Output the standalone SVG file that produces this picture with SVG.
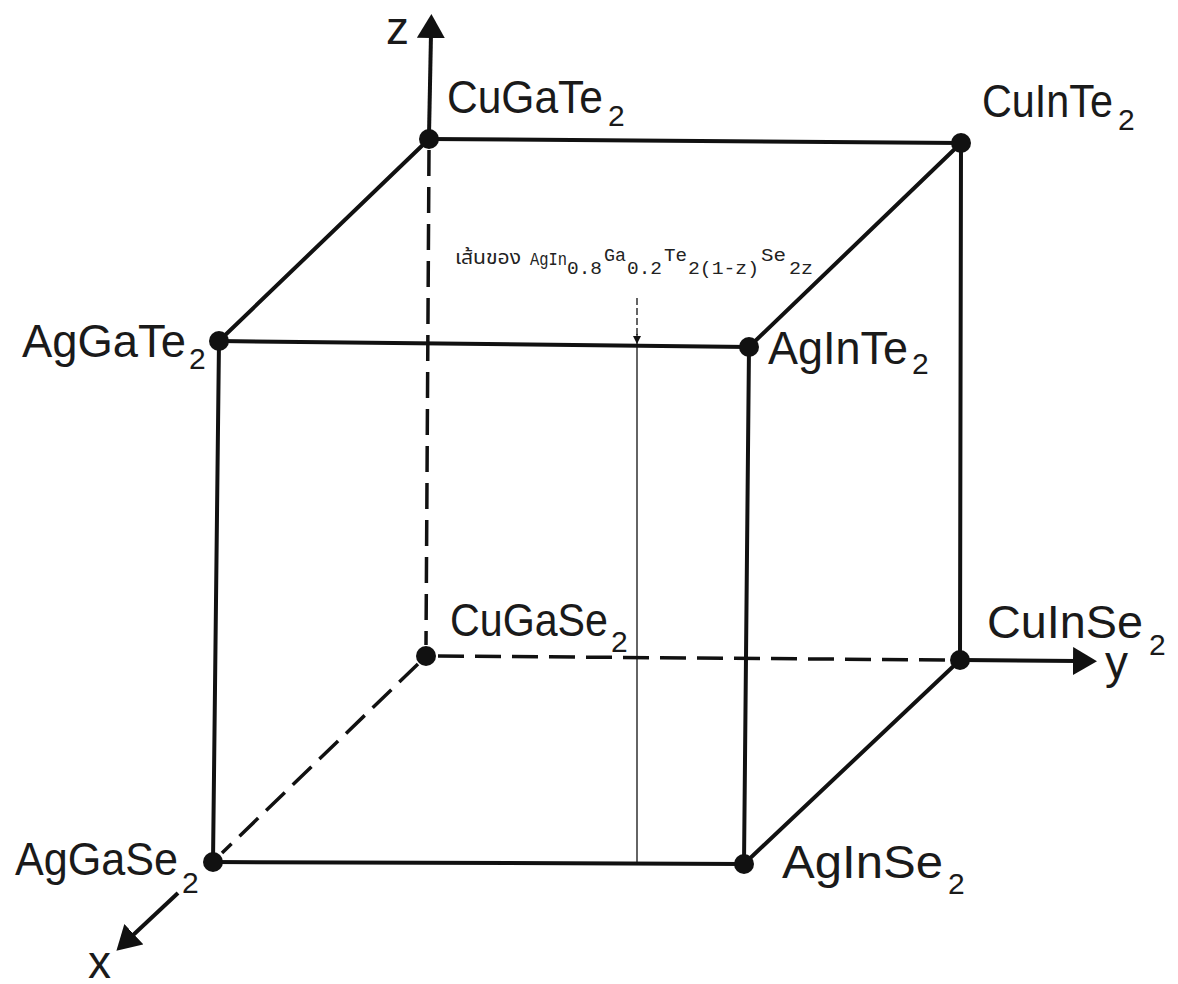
<svg xmlns="http://www.w3.org/2000/svg" width="1178" height="984" viewBox="0 0 1178 984">
<style>
.edge{stroke:#111;stroke-width:4;fill:none;stroke-linecap:round}
.dash{stroke:#111;stroke-width:3.5;fill:none;stroke-dasharray:26 11}
.axis{stroke:#111;stroke-width:4;fill:none}
.thin{stroke:#111;stroke-width:1.3;fill:none}
.dot{fill:#111}
.lbl{font-family:"Liberation Sans",Arial,sans-serif;font-size:46px;fill:#1a1a1a}
.sub{font-family:"Liberation Sans",Arial,sans-serif;font-size:30px;fill:#1a1a1a}
.mono{font-family:"Liberation Mono","Courier New",monospace;font-size:18px;fill:#222}
.thai{font-family:"Noto Sans Thai","Noto Serif Thai","Loma","Garuda","Noto Sans",sans-serif;font-size:19px;fill:#222}
</style>
<defs>
<marker id="ah" markerUnits="userSpaceOnUse" viewBox="0 0 24 28" refX="4" refY="14" markerWidth="24" markerHeight="28" orient="auto">
<path d="M0,0 L24,14 L0,28 z" fill="#111"/>
</marker>
<marker id="sah" markerUnits="userSpaceOnUse" viewBox="0 0 8 10" refX="8" refY="5" markerWidth="8" markerHeight="10" orient="auto">
<path d="M0,1 L8,5 L0,9 z" fill="#111"/>
</marker>
</defs>
<rect width="1178" height="984" fill="#fff"/>
<g id="connectors">
<line class="edge" x1="429" y1="139" x2="961" y2="143"/>
<line class="edge" x1="429" y1="139" x2="219" y2="341"/>
<line class="edge" x1="961" y1="143" x2="749" y2="347"/>
<line class="edge" x1="219" y1="341" x2="749" y2="347"/>
<line class="edge" x1="219" y1="341" x2="213" y2="862"/>
<line class="edge" x1="749" y1="347" x2="744" y2="864"/>
<line class="edge" x1="961" y1="143" x2="960" y2="660"/>
<line class="edge" x1="213" y1="862" x2="744" y2="864"/>
<line class="edge" x1="960" y1="660" x2="744" y2="864"/>
<line class="dash" x1="429" y1="150" x2="426" y2="645"/>
<line class="dash" x1="438" y1="656" x2="948" y2="660"/>
<line class="dash" x1="418" y1="664" x2="222" y2="853"/>
<line class="axis" x1="429" y1="135" x2="431" y2="34" marker-end="url(#ah)"/>
<line class="axis" x1="962" y1="660" x2="1077" y2="661" marker-end="url(#ah)"/>
<line class="axis" x1="178" y1="893" x2="131" y2="937" marker-end="url(#ah)"/>
<line class="thin" x1="637" y1="298" x2="637" y2="336" stroke-dasharray="7 3"/>
<line class="thin" x1="637" y1="334" x2="637" y2="344" marker-end="url(#sah)"/>
<line class="thin" x1="637" y1="347" x2="637" y2="863"/>
</g>
<g id="CuGaTe2"><circle class="dot" cx="429" cy="139" r="10"/><text class="lbl" x="447" y="113" textLength="156" lengthAdjust="spacingAndGlyphs">CuGaTe</text><text class="sub" x="608" y="126">2</text></g>
<g id="CuInTe2"><circle class="dot" cx="961" cy="143" r="10"/><text class="lbl" x="982" y="117" textLength="131" lengthAdjust="spacingAndGlyphs">CuInTe</text><text class="sub" x="1118" y="130">2</text></g>
<g id="AgGaTe2"><circle class="dot" cx="219" cy="341" r="10"/><text class="lbl" x="22" y="357" textLength="164" lengthAdjust="spacingAndGlyphs">AgGaTe</text><text class="sub" x="189" y="369">2</text></g>
<g id="AgInTe2"><circle class="dot" cx="749" cy="347" r="10"/><text class="lbl" x="768" y="364" textLength="140" lengthAdjust="spacingAndGlyphs">AgInTe</text><text class="sub" x="912" y="374">2</text></g>
<g id="CuGaSe2"><circle class="dot" cx="426" cy="656" r="10"/><text class="lbl" x="450" y="636" textLength="158" lengthAdjust="spacingAndGlyphs">CuGaSe</text><text class="sub" x="611" y="652">2</text></g>
<g id="CuInSe2"><circle class="dot" cx="960" cy="660" r="10"/><text class="lbl" x="987" y="638" textLength="156" lengthAdjust="spacingAndGlyphs">CuInSe</text><text class="sub" x="1149" y="655">2</text></g>
<g id="AgGaSe2"><circle class="dot" cx="213" cy="862" r="10"/><text class="lbl" x="15" y="875" textLength="163" lengthAdjust="spacingAndGlyphs">AgGaSe</text><text class="sub" x="182" y="893">2</text></g>
<g id="AgInSe2"><circle class="dot" cx="744" cy="864" r="10"/><text class="lbl" x="782" y="878" textLength="161" lengthAdjust="spacingAndGlyphs">AgInSe</text><text class="sub" x="948" y="894">2</text></g>
<g id="axis-labels">
<text class="lbl" x="386" y="44">z</text>
<text class="lbl" x="1105" y="678">y</text>
<text class="lbl" x="88" y="978">x</text>
</g>
<g id="line-label">
<text class="thai" x="455" y="264" textLength="66" lengthAdjust="spacingAndGlyphs">เส้นของ</text>
<text class="mono" x="530" y="265" textLength="37" lengthAdjust="spacingAndGlyphs">AgIn</text>
<text class="mono" x="567" y="274" textLength="35" lengthAdjust="spacingAndGlyphs">0.8</text>
<text class="mono" x="604" y="261" textLength="22" lengthAdjust="spacingAndGlyphs">Ga</text>
<text class="mono" x="627" y="274" textLength="35" lengthAdjust="spacingAndGlyphs">0.2</text>
<text class="mono" x="664" y="261" textLength="23" lengthAdjust="spacingAndGlyphs">Te</text>
<text class="mono" x="688" y="274" textLength="71" lengthAdjust="spacingAndGlyphs">2(1-z)</text>
<text class="mono" x="761" y="261" textLength="25" lengthAdjust="spacingAndGlyphs">Se</text>
<text class="mono" x="789" y="274" textLength="24" lengthAdjust="spacingAndGlyphs">2z</text>
</g>
</svg>
